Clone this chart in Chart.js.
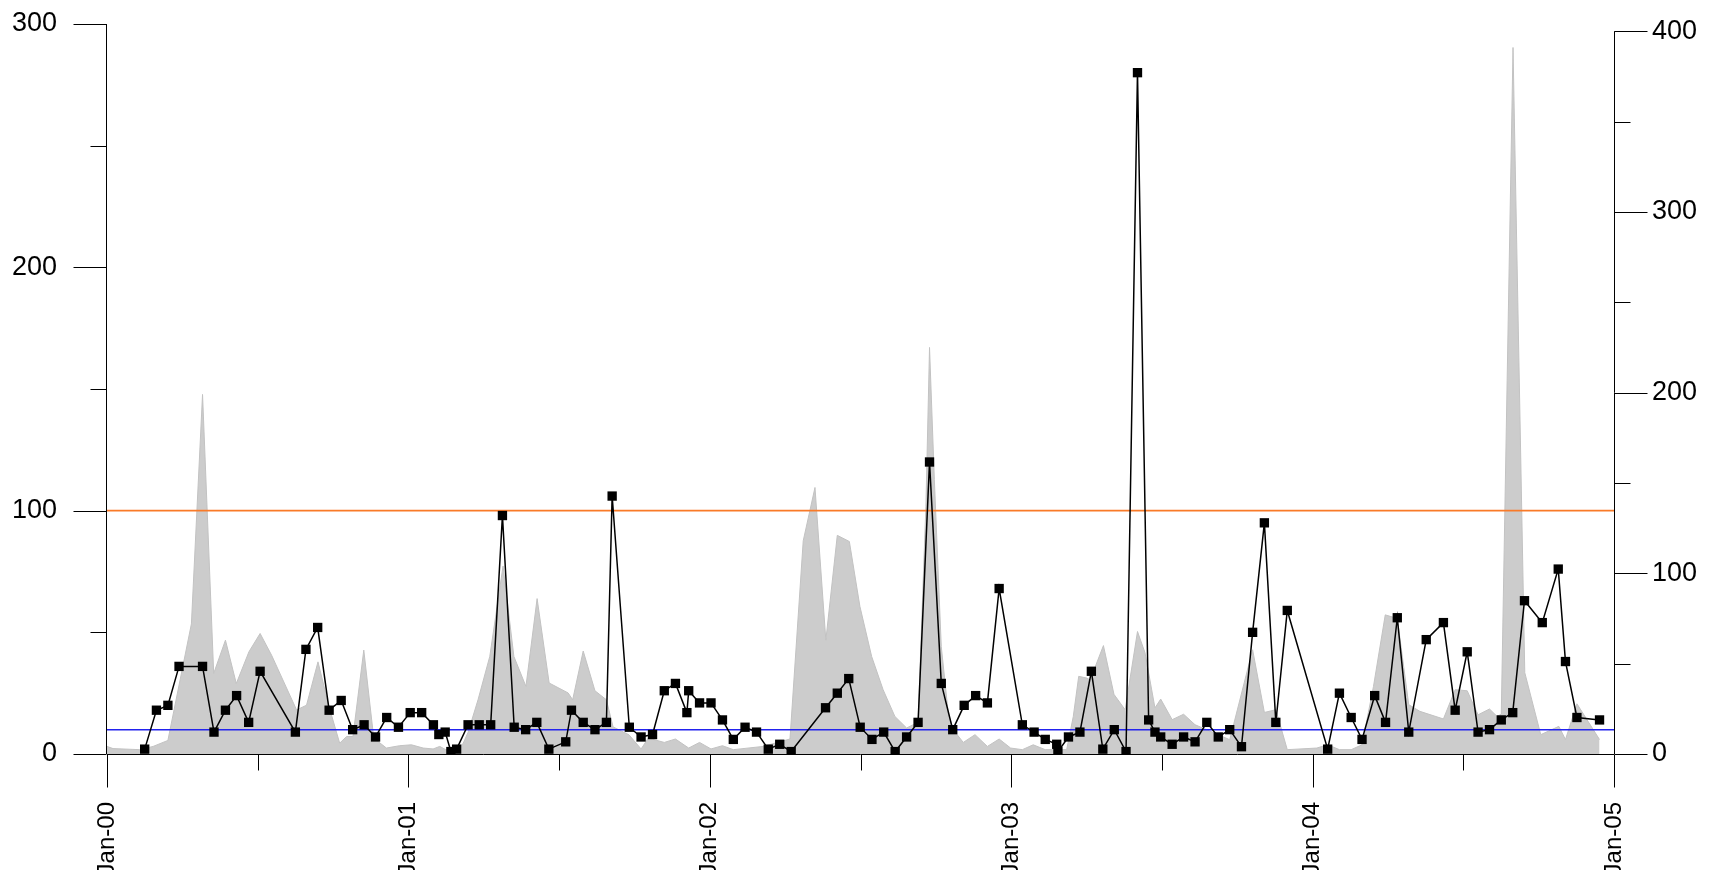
<!DOCTYPE html>
<html>
<head>
<meta charset="utf-8">
<script src="https://cdn.jsdelivr.net/npm/chart.js@4.4.1/dist/chart.umd.min.js"></script>
<style>
  html, body { margin: 0; padding: 0; background: #fff; overflow: hidden; }
  #wrap { width: 1715px; height: 870px; }
</style>
</head>
<body>
<div id="wrap"><canvas id="chart" width="1715" height="870"></canvas></div>
<script>
// x values are years since Jan-2000
const xTickLabels = ['Jan-00', 'Jan-01', 'Jan-02', 'Jan-03', 'Jan-04', 'Jan-05'];

// black series (left axis)
const sampleYears = [
  0.125, 0.164, 0.202, 0.239, 0.317, 0.355, 0.393, 0.430, 0.470, 0.508,
  0.625, 0.660, 0.699, 0.737, 0.777, 0.815, 0.853, 0.891, 0.928, 0.967,
  1.006, 1.044, 1.083, 1.101, 1.122, 1.141, 1.160, 1.198, 1.235, 1.273,
  1.312, 1.351, 1.389, 1.426, 1.466, 1.522, 1.541, 1.580, 1.619, 1.657,
  1.676, 1.733, 1.772, 1.810, 1.849, 1.886, 1.924, 1.930, 1.966, 2.004,
  2.042, 2.078, 2.117, 2.155, 2.194, 2.232, 2.270, 2.384, 2.423, 2.461,
  2.499, 2.538, 2.577, 2.615, 2.653, 2.691, 2.729, 2.768, 2.806, 2.844,
  2.882, 2.921, 2.960, 3.037, 3.076, 3.113, 3.151, 3.155, 3.190, 3.228,
  3.266, 3.304, 3.342, 3.381, 3.419, 3.456, 3.477, 3.496, 3.534, 3.572,
  3.610, 3.649, 3.687, 3.725, 3.764, 3.801, 3.840, 3.878, 3.916, 4.050,
  4.089, 4.128, 4.164, 4.206, 4.242, 4.281, 4.319, 4.377, 4.434, 4.473,
  4.513, 4.549, 4.587, 4.626, 4.664, 4.703, 4.762, 4.815, 4.839, 4.877,
  4.952
];
const sampleValues = [
  2, 18, 20, 36, 36, 9, 18, 24, 13, 34,
  9, 43, 52, 18, 22, 10, 12, 7, 15, 11,
  17, 17, 12, 8, 9, 1, 2, 12, 12, 12,
  98, 11, 10, 13, 2, 5, 18, 13, 10, 13,
  106, 11, 7, 8, 26, 29, 17, 26, 21, 21,
  14, 6, 11, 9, 2, 4, 1, 19, 25, 31,
  11, 6, 9, 1, 7, 13, 120, 29, 10, 20,
  24, 21, 68, 12, 9, 6, 4, 1, 7, 9,
  34, 2, 10, 1, 280, 14, 9, 7, 4, 7,
  5, 13, 7, 10, 3, 50, 95, 13, 59, 2,
  25, 15, 6, 24, 13, 56, 9, 47, 54, 18,
  42, 9, 10, 14, 17, 63, 54, 76, 38, 15,
  14
];

// grey area series (right axis)
const areaYears = [
  0.000, 0.020, 0.109, 0.153, 0.202, 0.280, 0.317, 0.354, 0.393, 0.429,
  0.471, 0.508, 0.546, 0.629, 0.662, 0.700, 0.737, 0.772, 0.795, 0.816,
  0.852, 0.885, 0.927, 0.971, 1.010, 1.049, 1.082, 1.104, 1.124, 1.160,
  1.182, 1.198, 1.231, 1.270, 1.314, 1.350, 1.390, 1.427, 1.467, 1.530,
  1.545, 1.580, 1.619, 1.657, 1.679, 1.732, 1.772, 1.796, 1.849, 1.886,
  1.930, 1.966, 2.004, 2.042, 2.078, 2.177, 2.266, 2.310, 2.349, 2.385,
  2.423, 2.463, 2.498, 2.537, 2.575, 2.614, 2.653, 2.691, 2.717, 2.729,
  2.745, 2.768, 2.791, 2.808, 2.841, 2.880, 2.921, 2.960, 2.998, 3.037,
  3.073, 3.113, 3.184, 3.206, 3.224, 3.251, 3.262, 3.306, 3.341, 3.378,
  3.419, 3.444, 3.477, 3.496, 3.534, 3.572, 3.610, 3.649, 3.687, 3.725,
  3.739, 3.801, 3.840, 3.878, 3.916, 4.014, 4.050, 4.089, 4.128, 4.164,
  4.202, 4.241, 4.281, 4.319, 4.356, 4.434, 4.473, 4.513, 4.549, 4.587,
  4.612, 4.626, 4.665, 4.704, 4.757, 4.817, 4.839, 4.877, 4.952
];
const areaValues = [
  4.2, 3, 2.4, 4.2, 7.5, 72, 199, 44.6, 63, 39,
  56.6, 66.7, 54.7, 24.4, 27, 51, 26, 6, 9.7, 9.7,
  57.5, 8.8, 3.3, 4.6, 5.1, 3.3, 2.8, 4.2, 2.4, 2,
  6, 12, 30, 54, 104, 54, 37.4, 86, 39.3, 33.8,
  30, 57, 35, 30, 15, 10.6, 2.8, 8.8, 6.4, 8.3,
  3.3, 6.4, 2.8, 4.6, 2.4, 4.2, 8.3, 118, 147.5, 63,
  121, 117.6, 81.7, 54, 35.6, 20.8, 14.4, 17.5, 137, 225,
  152, 59.5, 22.7, 13.4, 6.4, 10.7, 4.2, 8.3, 3.3, 2.4,
  5.1, 2.4, 2.4, 20.8, 43, 42, 41, 60, 33, 24.5,
  67.8, 56, 25.5, 30.4, 19, 22, 16.2, 13.4, 10.7, 7.9,
  17, 57.7, 23, 24.5, 2.4, 3.3, 5.1, 2.4, 2.4, 5.1,
  37.4, 77, 75, 27.3, 23.6, 19.4, 35.6, 35, 21.7, 24.9,
  20.8, 22, 391, 45, 10.7, 15.3, 8, 27.8, 8
];

const upperLimit = 100;
const lowerLimit = 10;

const leftMax = 300;
const rightMax = 404;
const rightAxisTop = 400;

const FAMILY = "'Liberation Sans', Arial, sans-serif";
const Y_FONT = { family: FAMILY, size: 27 };
const X_FONT = { family: FAMILY, size: 24 };
const PLOT_TOP = 24;

const toPoints = (xs, ys) => xs.map((x, i) => ({ x: x, y: ys[i] }));

// R-style axes: line from first to last tick, long ticks at labels, short between
const rAxes = {
    id: 'rAxes',
    afterDatasetsDraw(chart) {
        const ctx = chart.ctx;
        const area = chart.chartArea;
        const xs = chart.scales.x, ys = chart.scales.y, ys2 = chart.scales.y2;
        ctx.save();
        ctx.strokeStyle = '#000';
        ctx.lineWidth = 1;
        ctx.beginPath();
        // left
        const lx = Math.round(area.left) - 0.5;
        ctx.moveTo(lx, ys.getPixelForValue(0));
        ctx.lineTo(lx, ys.getPixelForValue(leftMax));
        ys.ticks.forEach(t => {
            const py = Math.round(ys.getPixelForValue(t.value)) + 0.5;
            const len = t.value % 100 === 0 ? 33 : 16;
            ctx.moveTo(lx, py);
            ctx.lineTo(lx - len, py);
        });
        // right
        const rx = Math.round(area.right) + 0.5;
        ctx.moveTo(rx, ys2.getPixelForValue(0));
        ctx.lineTo(rx, ys2.getPixelForValue(rightAxisTop));
        ys2.ticks.forEach(t => {
            if (t.value > rightAxisTop) return;
            const py = Math.round(ys2.getPixelForValue(t.value)) + 0.5;
            const len = t.value % 100 === 0 ? 33 : 16;
            ctx.moveTo(rx, py);
            ctx.lineTo(rx + len, py);
        });
        // bottom
        const by = Math.round(area.bottom) + 0.5;
        ctx.moveTo(xs.getPixelForValue(0), by);
        ctx.lineTo(xs.getPixelForValue(5), by);
        xs.ticks.forEach(t => {
            const px = Math.round(xs.getPixelForValue(t.value)) + 0.5;
            const len = Number.isInteger(t.value) ? 33 : 16;
            ctx.moveTo(px, by);
            ctx.lineTo(px, by + len);
        });
        ctx.stroke();
        ctx.restore();
    }
};

const ctx = document.getElementById('chart').getContext('2d');
const chart = new Chart(ctx, {
    type: 'line',
    data: {
        datasets: [{
            label: 'samples',
            data: toPoints(sampleYears, sampleValues),
            yAxisID: 'y',
            borderColor: '#000',
            borderWidth: 1.5,
            pointStyle: 'rect',
            pointRadius: 6.6,
            pointBackgroundColor: '#000',
            pointBorderColor: '#000',
            pointBorderWidth: 0,
            tension: 0,
            fill: false
        }, {
            label: 'lower',
            data: toPoints([0, 5], [lowerLimit, lowerLimit]),
            yAxisID: 'y',
            borderColor: '#2222ee',
            borderWidth: 1.5,
            pointRadius: 0,
            fill: false
        }, {
            label: 'upper',
            data: toPoints([0, 5], [upperLimit, upperLimit]),
            yAxisID: 'y',
            borderColor: '#f97a28',
            borderWidth: 1.8,
            pointRadius: 0,
            fill: false
        }, {
            label: 'area',
            data: toPoints(areaYears, areaValues),
            yAxisID: 'y2',
            borderColor: '#c2c2c2',
            borderWidth: 1,
            backgroundColor: '#cccccc',
            pointRadius: 0,
            tension: 0,
            fill: 'origin'
        }]
    },
    options: {
        responsive: false,
        animation: false,
        events: [],
        layout: { padding: { top: PLOT_TOP, left: 0, right: 0, bottom: 0 } },
        plugins: {
            legend: { display: false },
            tooltip: { enabled: false }
        },
        scales: {
            x: {
                type: 'linear',
                position: 'bottom',
                min: 0,
                max: 5,
                grid: { display: false, drawTicks: false },
                border: { display: false },
                ticks: {
                    stepSize: 0.5,
                    autoSkip: false,
                    maxRotation: 90,
                    minRotation: 90,
                    padding: 48,
                    color: '#000',
                    font: X_FONT,
                    callback: v => Number.isInteger(v) ? xTickLabels[v] : ''
                },
                afterFit: s => { s.height = 116; s.paddingLeft = 0; s.paddingRight = 0; }
            },
            y: {
                type: 'linear',
                position: 'left',
                min: 0,
                max: leftMax,
                grid: { display: false, drawTicks: false },
                border: { display: false },
                ticks: {
                    stepSize: 50,
                    padding: 50,
                    color: '#000',
                    font: Y_FONT,
                    callback: v => v % 100 === 0 ? String(v) : ''
                },
                afterFit: s => { s.width = 107; s.paddingTop = 0; s.paddingBottom = 0; }
            },
            y2: {
                type: 'linear',
                position: 'right',
                min: 0,
                max: rightMax,
                grid: { display: false, drawTicks: false },
                border: { display: false },
                ticks: {
                    stepSize: 50,
                    includeBounds: false,
                    padding: 38,
                    color: '#000',
                    font: Y_FONT,
                    callback: v => (v % 100 === 0 && v <= rightAxisTop) ? String(v) : ''
                },
                afterFit: s => { s.width = 101; s.paddingTop = 0; s.paddingBottom = 0; }
            }
        }
    },
    plugins: [rAxes]
});

// nudge the plot top back to where the reference has it
const extraTop = chart.chartArea.top - PLOT_TOP;
if (Math.abs(extraTop) > 0.5) {
    chart.options.layout.padding.top = PLOT_TOP - extraTop;
    chart.update();
}
</script>
</body>
</html>
